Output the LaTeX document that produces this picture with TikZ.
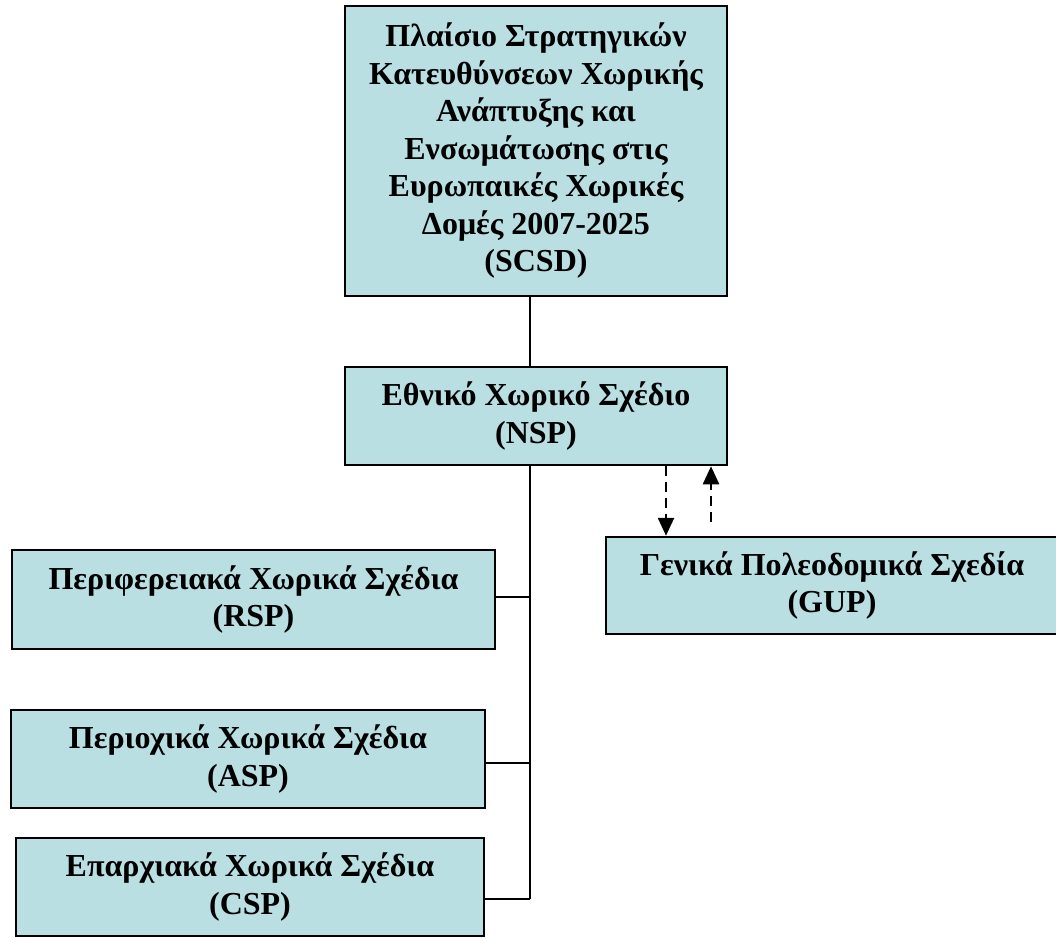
\documentclass[tikz,border=0pt]{standalone}
\usepackage{fontspec}
\setmainfont{Liberation Serif}
\usetikzlibrary{arrows.meta}
\definecolor{boxfill}{RGB}{185,223,227}
\tikzset{
  plan/.style={draw=black, line width=2.5pt, fill=boxfill, align=center, inner sep=0pt,
    font=\bfseries\fontsize{32}{37.5}\selectfont},
  conn/.style={draw=black, line width=2pt},
  dasharrow/.style={draw=black, line width=2.5pt, dash pattern=on 10pt off 6pt,
    -{Triangle[length=18pt,width=16pt]}}
}
\begin{document}
\begin{tikzpicture}[x=1pt,y=-1pt]
\useasboundingbox (0,0) rectangle (1056,938);
\node[plan, minimum width=382pt, minimum height=290pt] (scsd) at (536,151)
  {Πλαίσιο Στρατηγικών\\Κατευθύνσεων Χωρικής\\Ανάπτυξης και\\Ενσωμάτωσης στις\\Ευρωπαικές Χωρικές\\Δομές 2007-2025\\(SCSD)};
\node[plan, minimum width=382pt, minimum height=98pt] (nsp) at (536,416)
  {Εθνικό Χωρικό Σχέδιο\\(NSP)};
\node[plan, minimum width=452pt, minimum height=97pt] (gup) at (832,585.5)
  {Γενικά Πολεοδομικά Σχεδία\\(GUP)};
\node[plan, minimum width=483pt, minimum height=99pt] (rsp) at (253.5,599.5)
  {Περιφερειακά Χωρικά Σχέδια\\(RSP)};
\node[plan, minimum width=474pt, minimum height=98pt] (asp) at (248,759)
  {Περιοχικά Χωρικά Σχέδια\\(ASP)};
\node[plan, minimum width=468pt, minimum height=98pt] (csp) at (250,887)
  {Επαρχιακά Χωρικά Σχέδια\\(CSP)};
\coordinate (j1) at (530,597);
\coordinate (j2) at (530,763);
\coordinate (j3) at (530,899);
\draw[conn] (scsd.south -| j1) -- (nsp.north -| j1);
\draw[conn] (nsp.south -| j1) -- (j3);
\draw[conn] (j1) -- (j1 -| rsp.east);
\draw[conn] (j2) -- (j2 -| asp.east);
\draw[conn] (j3) -- (j3 -| csp.east);
\coordinate (dn) at (666,470);
\coordinate (up) at (711,522);
\draw[dasharrow] (nsp.south -| dn) -- (gup.north -| dn);
\draw[dasharrow] (up) -- (up |- nsp.south);
\end{tikzpicture}
\end{document}
